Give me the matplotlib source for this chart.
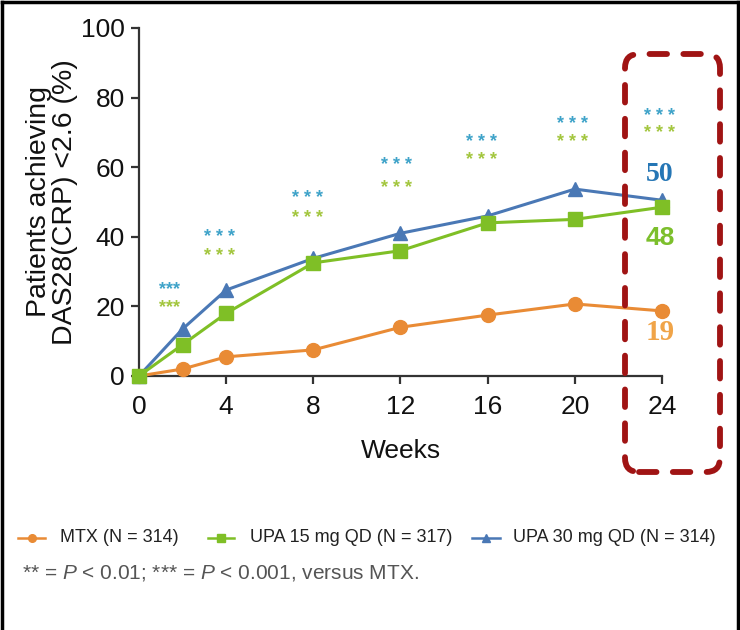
import matplotlib
matplotlib.use("Agg")
import matplotlib.pyplot as plt
from matplotlib.lines import Line2D
from matplotlib.patches import FancyBboxPatch

# data
weeks = [0, 2, 4, 8, 12, 16, 20, 24]
mtx = [0, 2, 5.5, 7.5, 14, 17.5, 20.7, 18.7]
upa15 = [0, 9, 18, 32.5, 36, 44, 45, 48.5]
upa30 = [0, 13.5, 24.7, 33.8, 41, 46, 53.7, 50.5]

series_labels = ["MTX (N = 314)", "UPA 15 mg QD (N = 317)", "UPA 30 mg QD (N = 314)"]

ast_weeks = [1.4, 3.7, 7.75, 11.8, 15.7, 19.9, 23.9]
ast_upa30 = [26.4, 41.4, 52.6, 62.1, 68.7, 73.9, 76.2]
ast_upa15 = [21.3, 35.9, 47.1, 55.5, 63.5, 68.7, 71.3]
ast_text = ["***", "* * *", "* * *", "* * *", "* * *", "* * *", "* * *"]

end_labels = ["19", "48", "50"]
end_label_y = [12.4, 39.7, 57.8]

ORANGE = "#e98b35"
GREEN = "#7fbf26"
BLUE = "#4a78b5"
AST_BLUE = "#3fa3c9"
AST_GREEN = "#a3c63e"
DARK_RED = "#a01414"
AXIS_GRAY = "#333333"

plt.rcParams["font.family"] = ["Liberation Sans", "DejaVu Sans"]
plt.rcParams["mathtext.fontset"] = "custom"
plt.rcParams["mathtext.it"] = "Liberation Sans:italic"
plt.rcParams["mathtext.rm"] = "Liberation Sans"

fig = plt.figure(figsize=(7.4, 6.3), dpi=100, facecolor="white")
ax = fig.add_axes([0.1878, 0.4032, 0.7068, 0.5524])

# =========================
# LINES
# =========================

ax.plot(weeks, mtx, color=ORANGE, lw=2.2, marker="o", ms=10,
        clip_on=False, zorder=3)
ax.plot(weeks, upa30, color=BLUE, lw=2.2, marker="^", ms=10,
        clip_on=False, zorder=4)
ax.plot(weeks, upa15, color=GREEN, lw=2.2, marker="s", ms=9.5,
        clip_on=False, zorder=5)

ax.set_xlim(0, 24)
ax.set_ylim(0, 100)
ax.set_xticks([0, 4, 8, 12, 16, 20, 24])
ax.set_yticks([0, 20, 40, 60, 80, 100])

for side in ["top", "right"]:
    ax.spines[side].set_visible(False)
for side in ["left", "bottom"]:
    ax.spines[side].set_linewidth(1.6)
    ax.spines[side].set_color(AXIS_GRAY)

ax.tick_params(axis="both", length=6, width=1.6, color=AXIS_GRAY,
               labelsize=19, labelcolor="#111111")
ax.tick_params(axis="x", pad=8)
ax.tick_params(axis="y", pad=4)
ax.set_xlabel("Weeks", fontsize=19, labelpad=14, color="#111111")
ax.set_ylabel("Patients achieving\nDAS28(CRP) <2.6 (%)", fontsize=20.5,
              labelpad=2, linespacing=1.0, color="#111111")

# =========================
# SIGNIFICANCE MARKS
# =========================

for x, yb, yg, s in zip(ast_weeks, ast_upa30, ast_upa15, ast_text):
    ax.text(x, yb - 3.0, s, color=AST_BLUE, fontsize=13, ha="center",
            va="baseline", fontweight="bold")
    ax.text(x, yg - 3.0, s, color=AST_GREEN, fontsize=13, ha="center",
            va="baseline", fontweight="bold")

label_colors = ["#f0a448", "#7cbf2c", "#2576b5"]
label_fonts = ["Liberation Serif", "Liberation Sans", "Liberation Serif"]
label_sizes = [21, 19, 20]
for txt, y, c, fam, fs in zip(end_labels, end_label_y, label_colors,
                              label_fonts, label_sizes):
    ax.text(23.9, y, txt, color=c, fontsize=fs, fontweight="bold",
            family=fam, ha="center", va="center")

# =========================
# RED DASHED BOX
# =========================

box = FancyBboxPatch((6.25, 1.58), 0.95, 4.18,
                     boxstyle="round,pad=0,rounding_size=0.14",
                     transform=fig.dpi_scale_trans, fill=False,
                     edgecolor=DARK_RED, lw=4.2, linestyle=(0, (3.0, 2.8)),
                     capstyle="round", zorder=10)
fig.add_artist(box)

# =========================
# LEGEND (placed by hand)
# =========================

legend_colors = [ORANGE, GREEN, BLUE]
legend_markers = ["o", "s", "^"]
handle_x = [(18, 45), (208, 234), (472, 500)]
text_x = [60, 250, 513]
leg_y = 1 - 538 / 630
W = 740.0

for (x0, x1), tx, c, m, lab in zip(handle_x, text_x, legend_colors,
                                   legend_markers, series_labels):
    fig.add_artist(Line2D([x0 / W, x1 / W], [leg_y, leg_y], color=c, lw=1.8,
                          transform=fig.transFigure))
    fig.add_artist(Line2D([(x0 + x1) / 2 / W], [leg_y], color=c, marker=m,
                          ms=5.5, lw=0, transform=fig.transFigure))
    fig.text(tx / W, leg_y, lab, fontsize=13, color="#222222", va="center",
             ha="left")

fig.text(22 / W, 1 - 573 / 630,
         r"** = $\it{P}$ < 0.01; *** = $\it{P}$ < 0.001, versus MTX.",
         fontsize=15, color="#555555", va="center")

# frame around the figure
for xs, ys in [([0.003, 0.003], [0, 0.997]), ([0.003, 0.997], [0.997, 0.997]),
               ([0.997, 0.997], [0, 0.997])]:
    fig.add_artist(Line2D(xs, ys, color="black", lw=2.5,
                          transform=fig.transFigure))

fig.savefig("out.png", dpi=100, facecolor="white")
